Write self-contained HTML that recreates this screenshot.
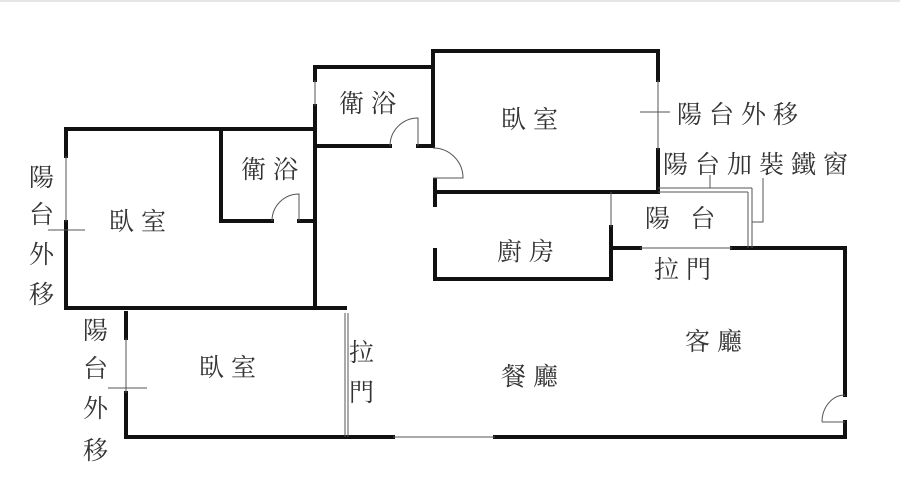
<!DOCTYPE html>
<html><head><meta charset="utf-8"><style>
html,body{margin:0;padding:0;background:#fff;}
svg{display:block}
text{font-family:"Liberation Serif","Noto Serif CJK SC","Noto Sans CJK TC",serif;font-size:25px;fill:#333;letter-spacing:7px;}
</style></head><body>
<svg width="900" height="478" viewBox="0 0 900 478" xmlns="http://www.w3.org/2000/svg">
<rect width="900" height="478" fill="#fff"/>
<line x1="0" y1="1" x2="900" y2="1" stroke="#ccc" stroke-width="1"/>
<g stroke="#111" stroke-width="4" fill="none" stroke-linecap="square">
<polyline points="66,156 66,129 313,129"/>
<polyline points="66,222 66,308 345,308"/>
<polyline points="221,129 221,221 272,221"/>
<line x1="299" y1="221" x2="313" y2="221"/>
<polyline points="315,80 315,67 433,67"/>
<line x1="315" y1="106" x2="315" y2="308"/>
<polyline points="315,146 390,146"/>
<line x1="418" y1="146" x2="433" y2="146"/>
<polyline points="433,146 433,51 658,51 658,80"/>
<polyline points="658,150 658,192 435,192"/>
<line x1="435" y1="180" x2="435" y2="205"/>
<polyline points="435,250 435,279 611,279 611,227"/>
<line x1="611" y1="248" x2="640" y2="248"/>
<polyline points="732,248 845,248 845,395"/>
<polyline points="845,422 845,437 495,437"/>
<line x1="393" y1="437" x2="126" y2="437"/>
<polyline points="126,393 126,437"/>
<polyline points="126,338 126,313"/>
</g>
<g stroke="#555" stroke-width="1" fill="none">
<line x1="315" y1="80" x2="315" y2="106"/>
<line x1="66" y1="156" x2="66" y2="222"/>
<line x1="48" y1="230" x2="85" y2="230"/>
<line x1="658" y1="80" x2="658" y2="150"/>
<line x1="640" y1="112" x2="670" y2="112"/>
<line x1="611" y1="192" x2="611" y2="227"/>
<line x1="658" y1="192" x2="748" y2="192"/>
<line x1="658" y1="188" x2="752" y2="188"/>
<line x1="748" y1="192" x2="748" y2="248"/>
<line x1="752" y1="188" x2="752" y2="248"/>
<line x1="710" y1="175" x2="710" y2="188"/>
<polyline points="763,178 763,222 752,222"/>
<line x1="640" y1="248" x2="732" y2="248"/>
<line x1="393" y1="437" x2="495" y2="437"/>
<line x1="126" y1="338" x2="126" y2="393"/>
<line x1="108" y1="388" x2="147" y2="388"/>
<line x1="345" y1="313" x2="345" y2="437"/>
<line x1="348" y1="313" x2="348" y2="437"/>
<path d="M272,221 A27,27 0 0 1 299,194 L299,221"/>
<path d="M390,146 A28,28 0 0 1 418,118 L418,146"/>
<path d="M433,148 A30,30 0 0 1 463,178 L433,178"/>
<path d="M822,422 A23,27 0 0 1 845,395 M822,422 L845,422"/>
</g>
<text x="339" y="112">衛浴</text>
<text x="241" y="178">衛浴</text>
<text x="109" y="230">臥室</text>
<text x="501" y="128">臥室</text>
<text x="677" y="123">陽台外移</text>
<text x="663" y="173">陽台加裝鐵窗</text>
<text x="645" y="227">陽 台</text>
<text x="497" y="260">廚房</text>
<text x="654" y="278">拉門</text>
<text x="685" y="350">客廳</text>
<text x="501" y="385">餐廳</text>
<text x="199" y="376">臥室</text>
<text x="349" y="361">拉</text>
<text x="349" y="401">門</text>
<text x="29" y="186">陽</text>
<text x="29" y="223">台</text>
<text x="29" y="263">外</text>
<text x="29" y="303">移</text>
<text x="83" y="339">陽</text>
<text x="83" y="377">台</text>
<text x="83" y="417">外</text>
<text x="83" y="459">移</text>
</svg>
</body></html>
